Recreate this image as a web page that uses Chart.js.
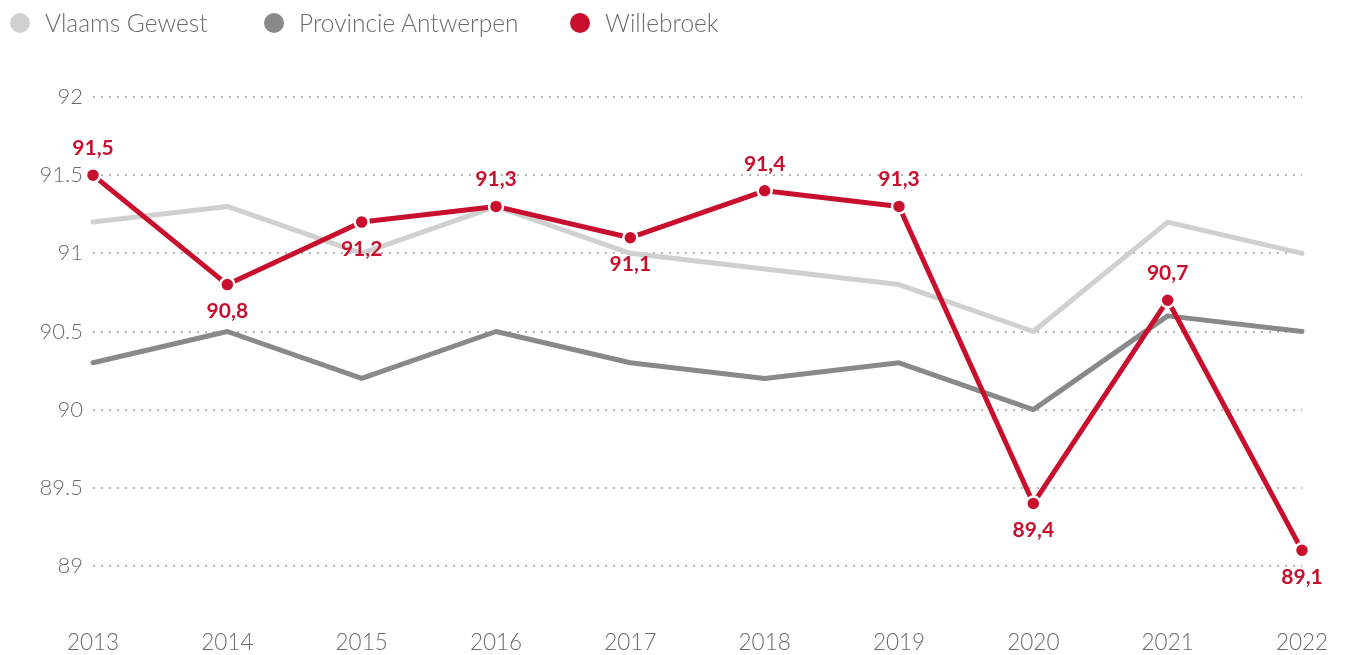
<!DOCTYPE html>
<html>
<head>
<meta charset="utf-8">
<script src="https://cdn.jsdelivr.net/npm/chart.js@4.4.1/dist/chart.umd.min.js"></script>
<style>
  html, body { margin: 0; padding: 0; background: #fff; }
  #wrap { position: relative; width: 1346px; height: 655px; }
  #legend { position: absolute; left: 0; top: 0; height: 46px; font-family: Lato, sans-serif; font-weight: 300; font-size: 24.5px; color: #6b6b6b; }
  .item { position: absolute; top: 9px; height: 28px; line-height: 28px; white-space: nowrap; }
  .dot { position: absolute; top: 4px; width: 20px; height: 20px; border-radius: 50%; }
  .txt { position: absolute; left: 35px; top: 0; }
  canvas { position: absolute; left: 0; top: 0; }
</style>
</head>
<body>
<div id="wrap">
  <canvas id="c" width="1346" height="655"></canvas>
  <div id="legend"></div>
</div>
<script>
const years = ['2013', '2014', '2015', '2016', '2017', '2018', '2019', '2020', '2021', '2022'];
const vlaamsGewest = [91.2, 91.3, 91.0, 91.3, 91.0, 90.9, 90.8, 90.5, 91.2, 91.0];
const provincieAntwerpen = [90.3, 90.5, 90.2, 90.5, 90.3, 90.2, 90.3, 90.0, 90.6, 90.5];
const willebroek = [91.5, 90.8, 91.2, 91.3, 91.1, 91.4, 91.3, 89.4, 90.7, 89.1];
// where each Willebroek value label sits relative to its point
const labelSide = ['above', 'below', 'below', 'above', 'below', 'above', 'above', 'below', 'above', 'below'];
const yTicks = [89, 89.5, 90, 90.5, 91, 91.5, 92];

const seriesNames = ['Vlaams Gewest', 'Provincie Antwerpen', 'Willebroek'];
const seriesColors = ['#cfd0cf', '#88898b', '#c8102e'];

// legend
const legendX = [10, 264, 570];
const legendEl = document.getElementById('legend');
seriesNames.forEach((name, i) => {
  const it = document.createElement('div');
  it.className = 'item';
  it.style.left = legendX[i] + 'px';
  it.innerHTML = '<span class="dot" style="background:' + seriesColors[i] + '"></span><span class="txt">' + name + '</span>';
  legendEl.appendChild(it);
});

const valueLabels = {
  id: 'valueLabels',
  afterDatasetsDraw(chart) {
    const meta = chart.getDatasetMeta(2);
    const ctx = chart.ctx;
    ctx.save();
    ctx.font = 'bold 21px Lato, sans-serif';
    ctx.fillStyle = seriesColors[2];
    ctx.textAlign = 'center';
    ctx.textBaseline = 'middle';
    meta.data.forEach((pt, i) => {
      const txt = willebroek[i].toFixed(1).replace('.', ',');
      const dy = labelSide[i] === 'above' ? -27 : 27;
      ctx.fillText(txt, pt.x, pt.y + dy);
    });
    ctx.restore();
  }
};

new Chart(document.getElementById('c'), {
  type: 'line',
  data: {
    labels: years,
    datasets: [
      { label: seriesNames[0], data: vlaamsGewest, borderColor: seriesColors[0], borderWidth: 5, pointRadius: 0, tension: 0, order: 3, borderCapStyle: 'round', borderJoinStyle: 'round' },
      { label: seriesNames[1], data: provincieAntwerpen, borderColor: seriesColors[1], borderWidth: 5, pointRadius: 0, tension: 0, order: 2, borderCapStyle: 'round', borderJoinStyle: 'round' },
      { label: seriesNames[2], data: willebroek, borderColor: seriesColors[2], backgroundColor: seriesColors[2], borderWidth: 5, pointRadius: 7, pointBorderWidth: 2.5, pointBorderColor: '#ffffff', pointBackgroundColor: seriesColors[2], tension: 0, order: 1, borderCapStyle: 'round', borderJoinStyle: 'round' }
    ]
  },
  options: {
    responsive: false,
    animation: false,
    clip: false,
    layout: { padding: { top: 97, right: 0, left: 0, bottom: 0 } },
    plugins: { legend: { display: false }, tooltip: { enabled: false } },
    scales: {
      x: {
        grid: { display: false, drawTicks: false },
        border: { display: false },
        ticks: { color: '#6b6b6b', font: { family: 'Lato', weight: 300, size: 22.5 }, padding: 63, maxRotation: 0 },
        afterFit(scale) {
          scale.height = 655 - 566;
          scale.paddingLeft = 0;
          scale.paddingRight = 44;
        }
      },
      y: {
        min: 89, max: 92,
        afterBuildTicks(scale) { scale.ticks = yTicks.map(v => ({ value: v })); },
        grid: { color: '#b5b5b5', lineWidth: 2, drawTicks: false },
        border: { display: false, dash: [2, 6] },
        ticks: { color: '#6b6b6b', font: { family: 'Lato', weight: 300, size: 22 }, padding: 10,
          callback: v => String(v) },
        afterFit(scale) { scale.width = 93; }
      }
    }
  },
  plugins: [valueLabels]
});
</script>
</body>
</html>
